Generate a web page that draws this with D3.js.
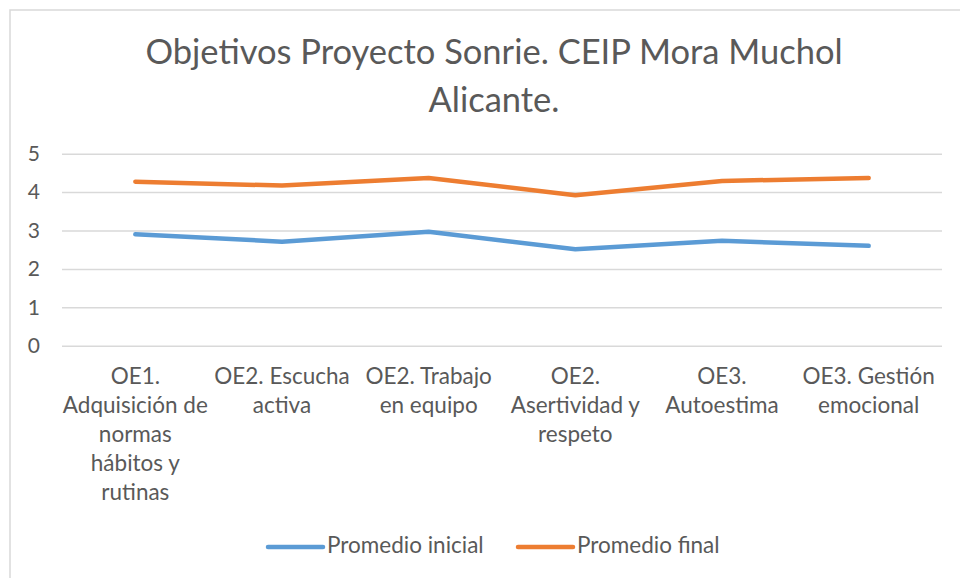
<!DOCTYPE html>
<html>
<head>
<meta charset="utf-8">
<script src="https://cdn.jsdelivr.net/npm/d3@7"></script>
<style>
  body { margin: 0; background: #fff; }
  svg { display: block; font-family: Lato, "Open Sans", sans-serif; }
</style>
</head>
<body>
<svg id="chart" width="960" height="578"></svg>
<script>
// --- Data ---
const categories = [
  "OE1.\nAdquisición de\nnormas\nhábitos y\nrutinas",
  "OE2. Escucha\nactiva",
  "OE2. Trabajo\nen equipo",
  "OE2.\nAsertividad y\nrespeto",
  "OE3.\nAutoestima",
  "OE3. Gestión\nemocional"
];
const promedioInicial = [2.90, 2.71, 2.97, 2.51, 2.73, 2.60];
const promedioFinal = [4.27, 4.17, 4.37, 3.92, 4.29, 4.37];
const yTicks = [0, 1, 2, 3, 4, 5];
const titleLines = ["Objetivos Proyecto Sonrie. CEIP Mora Muchol", "Alicante."];

const series = [
  { name: "Promedio inicial", values: promedioInicial, color: "#5B9BD5" },
  { name: "Promedio final", values: promedioFinal, color: "#ED7D31" }
];

const svg = d3.select("#chart");
const textColor = "#595959";

// chart frame (only top/left edges visible in the picture)
svg.append("rect")
  .attr("x", 10).attr("y", 10)
  .attr("width", 1000).attr("height", 600)
  .attr("fill", "#fff")
  .attr("stroke", "#d9d9d9")
  .attr("stroke-width", 1.5);

// --- Scales ---
const x = d3.scalePoint()
  .domain(d3.range(categories.length))
  .range([62, 942])
  .padding(0.5);

const y = d3.scaleLinear()
  .domain([0, 5])
  .range([345.7, 153.7]);

// --- Title ---
svg.append("text")
  .attr("x", 494)
  .attr("y", 64)
  .attr("text-anchor", "middle")
  .attr("fill", textColor)
  .style("font-size", "34.5px")
  .selectAll("tspan")
  .data(titleLines)
  .join("tspan")
  .attr("x", 494)
  .attr("dy", (d, i) => i === 0 ? 0 : 48)
  .text(d => d);

// --- Gridlines + y labels ---
const yAxis = svg.append("g")
  .attr("transform", "translate(62,0)")
  .call(d3.axisLeft(y).tickValues(yTicks).tickFormat(d3.format("d")).tickSize(-880).tickPadding(22));
yAxis.select(".domain").remove();
yAxis.selectAll(".tick line").attr("stroke", "#d9d9d9").attr("stroke-width", 1.5);
yAxis.selectAll(".tick text")
  .attr("fill", textColor)
  .style("font-size", "21px")
  .style("font-family", "Lato, sans-serif");

// --- X labels ---
const xLabels = svg.append("g");
categories.forEach((c, i) => {
  const t = xLabels.append("text")
    .attr("text-anchor", "middle")
    .attr("fill", textColor)
    .style("font-size", "22.5px");
  c.split("\n").forEach((line, j) => {
    t.append("tspan")
      .attr("x", x(i))
      .attr("y", 384 + j * 29)
      .text(line);
  });
});

// --- Lines ---
const line = d3.line()
  .x((d, i) => x(i))
  .y(d => y(d));

svg.append("g")
  .selectAll("path")
  .data(series)
  .join("path")
  .attr("d", d => line(d.values))
  .attr("fill", "none")
  .attr("stroke", d => d.color)
  .attr("stroke-width", 4.5)
  .attr("stroke-linejoin", "round")
  .attr("stroke-linecap", "round");

// --- Legend ---
const legendX = [268, 518];
const legend = svg.append("g")
  .selectAll("g")
  .data(series)
  .join("g")
  .attr("transform", (d, i) => `translate(${legendX[i]},547)`);
legend.append("line")
  .attr("x1", 0).attr("x2", 55)
  .attr("stroke", d => d.color)
  .attr("stroke-width", 4.5)
  .attr("stroke-linecap", "round");
legend.append("text")
  .attr("x", 59)
  .attr("y", 6)
  .attr("fill", textColor)
  .style("font-size", "22.5px")
  .text(d => d.name);
</script>
</body>
</html>
